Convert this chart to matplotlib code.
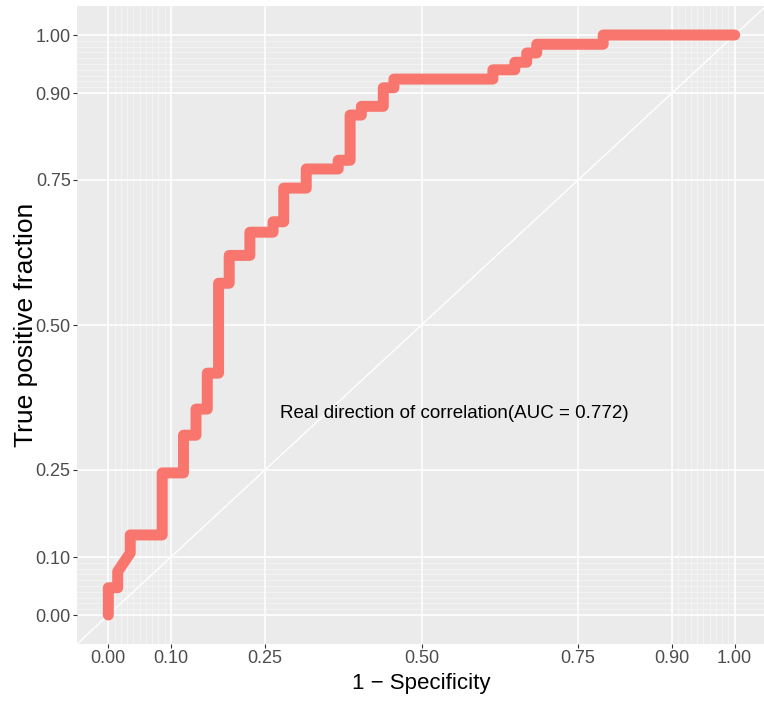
import matplotlib
matplotlib.use("Agg")
import matplotlib.pyplot as plt

# ROC curve vertices (false positive fraction, true positive fraction)
fpf = [0.0, 0.0, 0.015, 0.015, 0.035, 0.035, 0.086, 0.086, 0.12, 0.12,
       0.14, 0.14, 0.158, 0.158, 0.176, 0.176, 0.193, 0.193, 0.226, 0.226,
       0.263, 0.263, 0.28, 0.28, 0.316, 0.316, 0.367, 0.367, 0.386, 0.386,
       0.404, 0.404, 0.439, 0.439, 0.456, 0.456, 0.614, 0.614, 0.649, 0.649,
       0.668, 0.668, 0.684, 0.684, 0.79, 0.79, 1.0]
tpf = [0.0, 0.047, 0.047, 0.075, 0.107, 0.138, 0.138, 0.245, 0.245, 0.31,
       0.31, 0.355, 0.355, 0.417, 0.417, 0.572, 0.572, 0.62, 0.62, 0.66,
       0.66, 0.678, 0.678, 0.736, 0.736, 0.769, 0.769, 0.784, 0.784, 0.862,
       0.862, 0.877, 0.877, 0.909, 0.909, 0.924, 0.924, 0.94, 0.94, 0.953,
       0.953, 0.969, 0.969, 0.984, 0.984, 1.0, 1.0]

major_breaks = [0, 0.1, 0.25, 0.5, 0.75, 0.9, 1]
major_labels = ["0.00", "0.10", "0.25", "0.50", "0.75", "0.90", "1.00"]
minor_breaks = [i / 100 for i in range(0, 11)] + [i / 100 for i in range(90, 101)]
auc_label = "Real direction of correlation(AUC = 0.772)"

font = ["Liberation Sans", "DejaVu Sans"]

fig = plt.figure(figsize=(7.64, 7.05), dpi=100)
ax = fig.add_axes([77 / 764, 61 / 705, 689 / 764, 638 / 705])
ax.set_facecolor("#EBEBEB")
for s in ax.spines.values():
    s.set_visible(False)

ax.set_xlim(-0.05, 1.05)
ax.set_ylim(-0.05, 1.05)

# grid lines
for v in minor_breaks:
    ax.axvline(v, color="#F5F5F5", lw=0.6, zorder=0)
    ax.axhline(v, color="#F5F5F5", lw=0.6, zorder=0)
for v in major_breaks:
    ax.axvline(v, color="white", lw=1.1, zorder=0.5)
    ax.axhline(v, color="white", lw=1.1, zorder=0.5)

# reference diagonal
ax.axline((0, 0), (1, 1), color="white", lw=1.0, zorder=1)

ax.plot(fpf, tpf, color="#F8766D", lw=7.9, solid_capstyle="round",
        solid_joinstyle="round", zorder=2)

ax.text(0.552, 0.348, auc_label, ha="center", va="center", fontsize=13.5,
        family=font, color="black", zorder=3)

ax.set_xticks(major_breaks)
ax.set_xticklabels(major_labels)
ax.set_yticks(major_breaks)
ax.set_yticklabels(major_labels)
ax.tick_params(length=3, width=0.8, color="#333333", labelcolor="#4D4D4D",
               labelsize=13, pad=1.5)
for lab in ax.get_xticklabels() + ax.get_yticklabels():
    lab.set_family(font)

ax.set_xlabel("1 \u2212 Specificity", fontsize=16, family=font, color="black")
ax.xaxis.set_label_coords(0.5, -0.062)
ax.xaxis.label.set_va("center")
ax.set_ylabel("True positive fraction", fontsize=19, family=font, color="black")
ax.yaxis.set_label_coords(-(77 - 26) / 689, 0.5)
ax.yaxis.label.set_va("center")

fig.savefig("out.png", dpi=100, facecolor="white")
